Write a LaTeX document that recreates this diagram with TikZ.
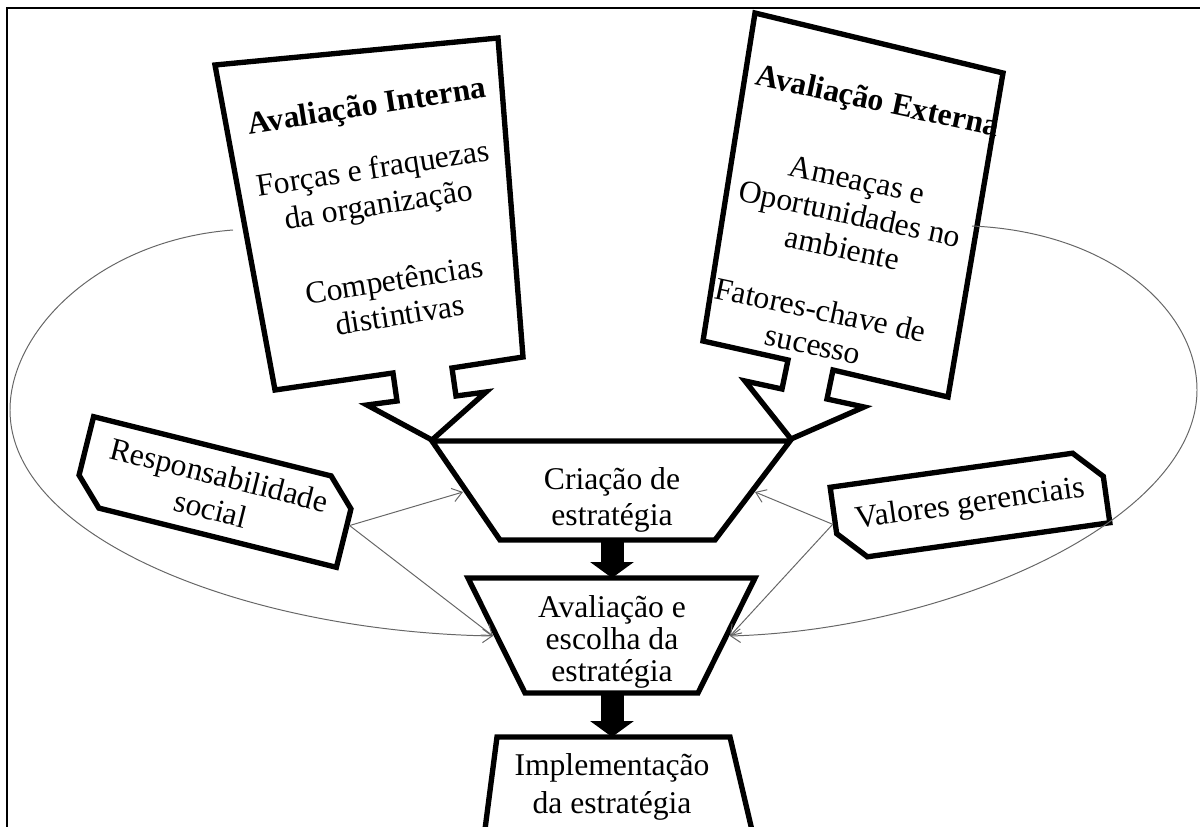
\documentclass[tikz,border=0pt]{standalone}
\usepackage{fontspec}
\setmainfont{Liberation Serif}
\usetikzlibrary{positioning,arrows.meta,shapes.misc,calc}
\tikzset{
  frameline/.style={line width=1pt, draw=black},
  callout/.style={draw=black, fill=white, line width=3.8pt, line join=miter},
  stage/.style={draw=black, fill=white, line width=3.8pt, line join=miter},
  factor/.style={chamfered rectangle, chamfered rectangle corners={north east,south west},
    chamfered rectangle xsep=3.4mm, chamfered rectangle ysep=3.4mm,
    draw=black, fill=white, line width=3.8pt, minimum width=68mm, minimum height=18.5mm,
    inner sep=1pt, align=center, font=\fontsize{22.5}{25}\selectfont},
  influence/.style={-{Straight Barb[length=2.4mm,width=3.4mm]}, draw=black!60, line width=0.7pt},
  bigflow/.style={-{Triangle[length=4mm,width=10.75mm]}, line width=5.75mm, draw=black},
  txt/.style={font=\fontsize{22.5}{25}\selectfont, align=center, inner sep=0pt},
  title/.style={font=\fontsize{22.5}{25}\selectfont\bfseries, inner sep=0pt}
}

\begin{document}
\begin{tikzpicture}[x=0.25mm, y=-0.25mm]
  \useasboundingbox (0,0) rectangle (1200,827);
  \clip (0,0) rectangle (1200,827);
  \draw[frameline] (7,840) -- (7,8) -- (1210,8);

  % Assessment callouts.
  \draw[callout] (215,65) -- (498,38) -- (523,357) -- (452,368) -- (456,396)
    -- (486,392) -- (432,440) -- (367,405) -- (397,401) -- (393,373)
    -- (275,390) -- cycle;
  \draw[callout] (755,13) -- (1003,73) -- (948,397) -- (833,370) -- (827,399)
    -- (864,407) -- (791,439) -- (745,381) -- (782,389) -- (788,360)
    -- (703,341) -- cycle;

  % Strategy stages.
  \draw[stage] (432,441) -- (790,441) -- (715,540) -- (500,540) -- cycle;
  \draw[stage] (468,578) -- (755,578) -- (698,693) -- (525,693) -- cycle;
  \draw[stage] (481,860) -- (497,737) -- (730,737) -- (759,860);

  \coordinate (cria-w) at (463,492);
  \coordinate (cria-e) at (755,492);
  \coordinate (cria-s) at (612,540);
  \coordinate (aval-n) at (612,578);
  \coordinate (aval-w) at (493,636);
  \coordinate (aval-e) at (730,636);
  \coordinate (aval-s) at (612,693);
  \coordinate (impl-n) at (612,737);
  \coordinate (int-w) at (233,230);
  \coordinate (ext-e) at (972,226);

  \node[txt] (cria) at (612,500) {Criação de\\estratégia};
  \node[txt, font=\fontsize{22.5}{23}\selectfont] (aval) at (612,642)
    {Avaliação e\\escolha da\\estratégia};
  \node[txt, font=\fontsize{22.5}{27}\selectfont] (impl) at (612,787)
    {Implementação\\da estratégia};

  \node[title, rotate=9] (int-title) at (367,108) {Avaliação Interna};
  \node[txt, rotate=9, font=\fontsize{22.5}{26}\selectfont] (int-forces) at (376,189)
    {Forças e fraquezas\\da organização};
  \node[txt, rotate=9] (int-comp) at (397,297) {Competências\\distintivas};

  \node[title, rotate=-12] (ext-title) at (877,103) {Avaliação Externa};
  \node[txt, rotate=-12] (ext-threats) at (850,214)
    {Ameaças e\\Oportunidades no\\ambiente};
  \node[txt, rotate=-12] (ext-keys) at (817,327) {Fatores-chave de\\sucesso};

  % Shaping factors.
  \node[factor, rotate=-14] (resp) at (215,492) {Responsabilidade\\social};
  \node[factor, rotate=8] (val) at (970,505) {Valores gerenciais};

  \draw[bigflow] (cria-s) -- (aval-n);
  \draw[bigflow] (aval-s) -- (impl-n);

  \draw[influence] (resp.east) -- (cria-w);
  \draw[influence] (resp.east) -- (aval-w);
  \draw[influence] (val.west) -- (cria-e);
  \draw[influence] (val.west) -- (aval-e);
  \draw[influence] (int-w) .. controls (100,240) and (10,330) .. (10,410)
    .. controls (10,540) and (250,632) .. (aval-w);
  \draw[influence] (ext-e) .. controls (1110,232) and (1197,310) .. (1197,390)
    .. controls (1197,520) and (950,630) .. (aval-e);
\end{tikzpicture}
\end{document}
